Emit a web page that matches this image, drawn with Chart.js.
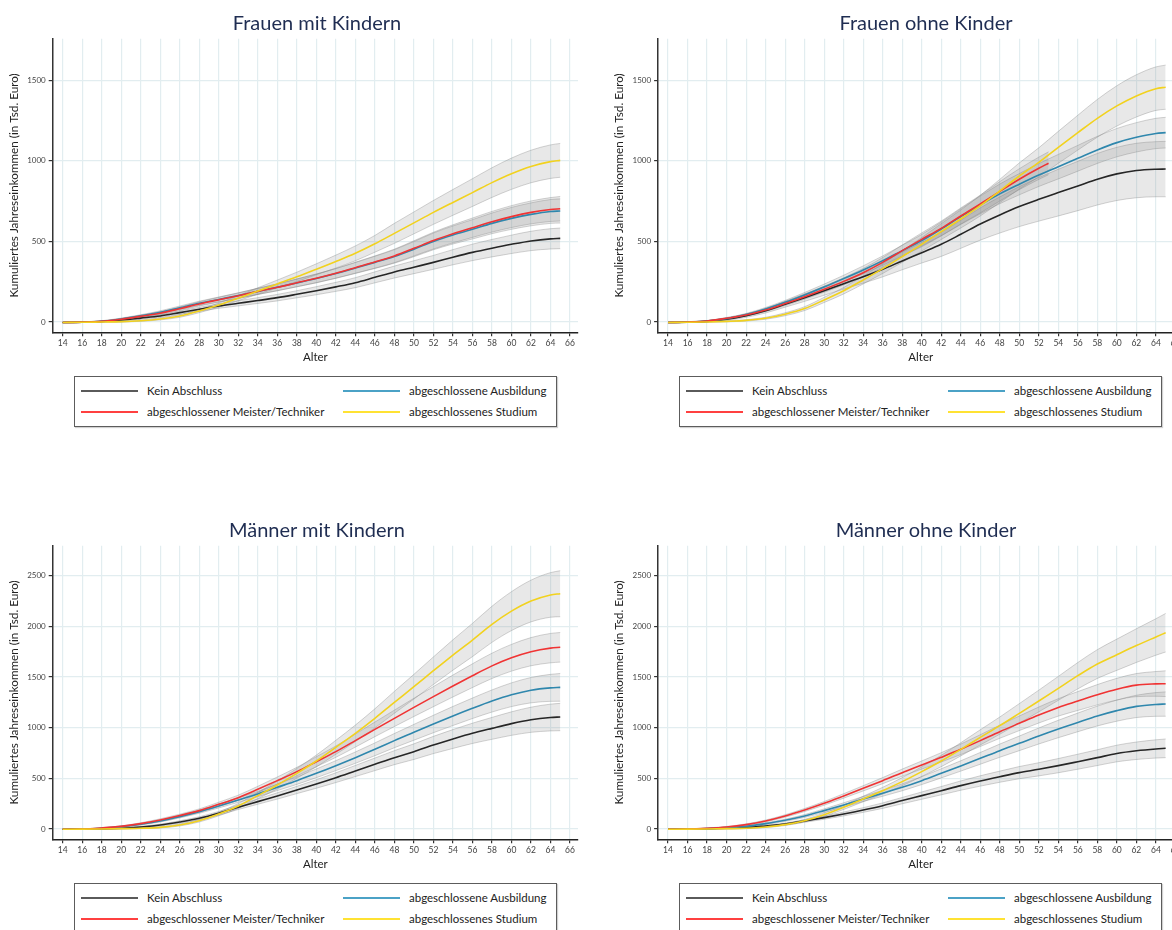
<!DOCTYPE html>
<html>
<head>
<meta charset="utf-8">
<script src="https://cdn.jsdelivr.net/npm/chart.js@4.4.1/dist/chart.umd.min.js"></script>
<style>
  html, body { margin: 0; padding: 0; background: #fff; }
  body { width: 1172px; height: 930px; overflow: hidden; position: relative; font-family: Lato, "Open Sans", sans-serif; }
  canvas { position: absolute; }
  .title { position: absolute; font-size: 20px; line-height: 20px; color: #1f2d52; white-space: nowrap; transform: translateX(-50%); }
  .legend { position: absolute; border: 1.5px solid #5c5c5c; box-sizing: border-box; box-shadow: 1px 1px 1px rgba(0,0,0,0.18); background: #fff; }
  .legend .txt { position: absolute; font-size: 11.5px; line-height: 14px; color: #222; white-space: nowrap; }
  .legend .sw { position: absolute; height: 2px; }
</style>
</head>
<body>
<script>
// Age grid shared by all curves (last point is age 65)
const ages = [14,16,18,20,22,24,26,28,30,32,34,36,38,40,42,44,46,48,50,52,54,56,58,60,62,64,65];
// Meister/Techniker for women without children is only observed up to age 53
const agesMeisterFoK = [14,16,18,20,22,24,26,28,30,32,34,36,38,40,42,44,46,48,50,52,53];
const xTicks = [14,16,18,20,22,24,26,28,30,32,34,36,38,40,42,44,46,48,50,52,54,56,58,60,62,64,66];
const yTicksFrauen = [0,500,1000,1500];
const yTicksMaenner = [0,500,1000,1500,2000,2500];
const seriesNames = ['Kein Abschluss','abgeschlossene Ausbildung','abgeschlossener Meister/Techniker','abgeschlossenes Studium'];

// Frauen mit Kindern (cumulative income, thousand euro) and CI half widths
const fmkKein       = [-3,-1,3,12,24,37,58,79,99,116,133,151,172,194,218,244,277,310,340,370,402,432,458,482,503,516,519];
const fmkKeinCI     = [1,2,3,4,6,8,10,12,14,16,18,20,22,25,28,31,34,37,40,43,47,51,54,57,60,63,64];
const fmkAusb       = [-3,-1,5,19,38,60,88,116,140,164,190,215,242,270,301,335,370,407,452,500,540,575,612,643,668,686,689];
const fmkAusbCI     = [1,2,3,5,7,9,11,13,15,17,19,21,24,27,30,34,38,42,47,52,56,60,64,68,71,74,75];
const fmkMeister    = [-3,-1,4,17,35,54,82,112,138,163,190,215,243,271,302,337,372,410,457,505,547,585,622,654,680,698,703];
const fmkMeisterCI  = [1,2,3,5,7,9,11,13,15,17,19,21,24,27,30,34,38,42,47,52,56,60,64,68,71,74,76];
const fmkStudium    = [-3,-2,0,2,8,19,37,68,105,148,192,236,280,327,375,426,485,550,615,680,742,803,865,920,965,995,1003];
const fmkStudiumCI  = [1,1,2,3,4,6,8,10,13,16,20,24,29,34,40,46,52,62,68,74,80,86,92,97,101,104,105];

// Frauen ohne Kinder
const fokKein       = [-3,-1,4,17,39,70,110,151,194,238,281,327,379,430,482,544,608,664,716,761,803,844,886,919,940,948,949];
const fokKeinCI     = [1,2,4,7,10,14,18,23,28,34,40,47,55,64,75,87,100,112,124,135,145,153,160,165,169,171,172];
const fokAusb       = [-3,0,6,21,46,81,122,168,217,269,323,381,443,505,577,654,726,795,855,912,964,1016,1068,1113,1146,1170,1175];
const fokAusbCI     = [1,2,3,5,7,9,12,15,18,21,25,29,33,38,43,49,55,61,66,71,76,80,84,88,91,94,95];
const fokMeister    = [-3,0,6,23,43,74,114,157,203,252,306,370,443,513,581,658,732,811,886,954,985];
const fokMeisterCI  = [1,2,3,5,7,9,12,15,18,22,26,30,35,40,45,50,55,60,65,69,71];
const fokStudium    = [-3,-2,0,4,10,23,48,83,137,194,261,331,406,482,561,639,722,813,906,991,1084,1175,1264,1341,1403,1448,1457];
const fokStudiumCI  = [1,1,2,3,4,6,9,12,16,20,25,30,36,42,49,56,64,72,81,90,99,108,117,125,131,135,137];

// Männer mit Kindern
const mmkKein       = [-3,-1,2,7,20,39,69,105,155,214,270,326,385,444,506,572,638,704,763,829,888,944,993,1040,1078,1100,1105];
const mmkKeinCI     = [1,2,3,5,7,9,12,15,18,22,26,31,36,42,48,55,62,69,77,85,93,100,108,116,124,132,135];
const mmkAusb       = [-3,-1,7,23,46,79,122,171,227,286,345,411,477,549,625,704,786,872,954,1036,1115,1191,1263,1325,1370,1393,1398];
const mmkAusbCI     = [1,2,3,5,7,10,13,16,19,23,27,32,37,43,49,56,63,70,78,86,94,101,109,117,125,133,137];
const mmkMeister    = [-3,-1,10,26,53,89,132,181,243,309,391,477,566,664,763,872,983,1092,1200,1306,1411,1513,1610,1690,1750,1785,1793];
const mmkMeisterCI  = [1,2,3,5,8,11,14,17,21,25,30,36,42,49,56,64,72,81,90,99,108,117,125,132,139,145,146];
const mmkStudium    = [-3,-2,0,3,7,16,39,82,148,227,329,434,549,671,806,944,1092,1250,1404,1562,1717,1865,2020,2150,2250,2310,2322];
const mmkStudiumCI  = [1,1,2,3,4,6,9,13,18,24,31,39,48,58,69,81,94,108,122,136,150,164,178,192,206,220,227];

// Männer ohne Kinder
const mokKein       = [-3,-1,2,7,13,30,49,79,112,148,187,230,280,329,378,428,474,516,556,589,625,664,704,745,772,790,796];
const mokKeinCI     = [1,2,3,4,6,8,10,13,16,19,23,27,31,36,41,46,51,55,60,65,70,74,78,82,86,90,92];
const mokAusb       = [-3,-1,3,13,26,53,86,128,181,237,296,352,411,477,549,622,697,773,845,918,987,1052,1115,1168,1210,1229,1233];
const mokAusbCI     = [1,2,3,4,6,8,11,14,17,21,25,29,34,39,45,51,58,65,72,79,86,92,98,104,110,117,120];
const mokMeister    = [-3,-1,7,20,43,79,128,187,253,326,401,477,556,631,707,786,872,960,1043,1125,1200,1263,1325,1380,1420,1432,1434];
const mokMeisterCI  = [1,2,3,5,7,9,12,15,18,22,26,30,35,40,46,52,58,65,72,79,86,93,100,107,114,122,127];
const mokStudium    = [-3,-2,0,3,7,20,43,82,141,214,296,378,467,566,671,786,904,1020,1141,1263,1388,1513,1628,1720,1810,1895,1937];
const mokStudiumCI  = [1,1,2,3,4,6,9,12,16,21,27,33,40,48,56,65,75,85,96,107,118,130,142,154,166,180,190];

// ---- styling ----
const FONT = 'Lato, "Open Sans", sans-serif';
const lineColors   = ['#262626', '#2f87ad', '#f03434', '#f2d21e'];
const swatchColors = ['#5a5a5a', '#4ba2c6', '#ff4040', '#ffe233'];
const bandFill = 'rgba(135,135,135,0.19)';
const bandEdge = 'rgba(130,130,130,0.35)';
const gridColor = '#e2edf0';

const panels = [
  { title: 'Frauen mit Kindern', ox: 0,     oy: 0,   titleX: 317, yTicks: yTicksFrauen, yMin: -64,  yMax: 1758,
    series: [[ages, fmkKein, fmkKeinCI], [ages, fmkAusb, fmkAusbCI], [ages, fmkMeister, fmkMeisterCI], [ages, fmkStudium, fmkStudiumCI]] },
  { title: 'Frauen ohne Kinder', ox: 605.4, oy: 0,   titleX: 926, yTicks: yTicksFrauen, yMin: -64,  yMax: 1758,
    series: [[ages, fokKein, fokKeinCI], [ages, fokAusb, fokAusbCI], [agesMeisterFoK, fokMeister, fokMeisterCI], [ages, fokStudium, fokStudiumCI]] },
  { title: 'Männer mit Kindern', ox: 0,     oy: 507, titleX: 317, yTicks: yTicksMaenner, yMin: -102, yMax: 2796,
    series: [[ages, mmkKein, mmkKeinCI], [ages, mmkAusb, mmkAusbCI], [ages, mmkMeister, mmkMeisterCI], [ages, mmkStudium, mmkStudiumCI]] },
  { title: 'Männer ohne Kinder', ox: 605.4, oy: 507, titleX: 926, yTicks: yTicksMaenner, yMin: -102, yMax: 2796,
    series: [[ages, mokKein, mokKeinCI], [ages, mokAusb, mokAusbCI], [ages, mokMeister, mokMeisterCI], [ages, mokStudium, mokStudiumCI]] }
];

// plot frame inside each panel (panel-relative)
const FRAME = { left: 52.7, top: 38.7, right: 578, bottom: 332.3 };
const CW = 600, CH = 372;

function pts(xs, ys) { return xs.map((x, i) => ({ x: x, y: ys[i] })); }

function buildPanel(p) {
  const cx = Math.floor(p.ox), frac = p.ox - cx;
  const cv = document.createElement('canvas');
  cv.width = CW; cv.height = CH;
  cv.style.left = cx + 'px'; cv.style.top = p.oy + 'px';
  cv.style.width = CW + 'px'; cv.style.height = CH + 'px';
  document.body.appendChild(cv);

  const axisLeft = FRAME.left + frac;
  const plotRight = FRAME.right + frac;

  const datasets = [];
  // lines first (drawn on top), Studium topmost
  for (let k = 3; k >= 0; k--) {
    const [xs, ys] = p.series[k];
    datasets.push({
      data: pts(xs, ys), borderColor: lineColors[k], borderWidth: 1.6,
      pointRadius: 0, fill: false, cubicInterpolationMode: 'monotone', order: 0
    });
  }
  // confidence bands
  for (let k = 0; k < 4; k++) {
    const [xs, ys, ci] = p.series[k];
    datasets.push({
      data: pts(xs, ys.map((v, i) => v + ci[i])), borderColor: bandEdge, borderWidth: 1,
      backgroundColor: bandFill, pointRadius: 0, fill: '+1', cubicInterpolationMode: 'monotone', order: 1
    });
    datasets.push({
      data: pts(xs, ys.map((v, i) => v - ci[i])), borderColor: bandEdge, borderWidth: 1,
      pointRadius: 0, fill: false, cubicInterpolationMode: 'monotone', order: 1
    });
  }

  new Chart(cv, {
    type: 'line',
    data: { datasets },
    options: {
      responsive: false, animation: false, devicePixelRatio: 1,
      layout: { padding: { left: 0, top: FRAME.top, right: CW - plotRight, bottom: 0 } },
      plugins: { legend: { display: false }, tooltip: { enabled: false }, title: { display: false } },
      scales: {
        x: {
          type: 'linear', min: 12.98, max: 66.82,
          afterBuildTicks: s => { s.ticks = xTicks.map(v => ({ value: v })); },
          afterFit: s => { s.height = CH - FRAME.bottom; },
          grid: { color: gridColor, lineWidth: 1.2, tickLength: 4, tickColor: '#333', drawTicks: true },
          border: { color: '#222', width: 1.5 },
          ticks: { font: { family: FONT, size: 8.5 }, color: '#444', padding: 2, maxRotation: 0, autoSkip: false,
                   callback: v => String(v) },
          title: { display: true, text: 'Alter', font: { family: FONT, size: 11.5 }, color: '#222', padding: { top: 0, bottom: 8.2 } }
        },
        y: {
          type: 'linear', min: p.yMin, max: p.yMax,
          afterBuildTicks: s => { s.ticks = p.yTicks.map(v => ({ value: v })); },
          afterFit: s => { s.width = axisLeft; },
          grid: { color: gridColor, lineWidth: 1.2, tickLength: 4, tickColor: '#333', drawTicks: true },
          border: { color: '#333', width: 1.5 },
          ticks: { font: { family: FONT, size: 8 }, color: '#444', padding: 3, callback: v => String(v) },
          title: { display: true, text: 'Kumuliertes Jahreseinkommen (in Tsd. Euro)', font: { family: FONT, size: 11.7 }, color: '#222', padding: { top: 7.2, bottom: 0 } }
        }
      }
    }
  });

  // panel heading
  const t = document.createElement('div');
  t.className = 'title';
  t.textContent = p.title;
  t.style.left = p.titleX + 'px';
  t.style.top = (p.oy + 12.3) + 'px';
  document.body.appendChild(t);

  // legend box (two columns)
  const lg = document.createElement('div');
  lg.className = 'legend';
  lg.style.left = Math.round(p.ox + 73.5) + 'px';
  lg.style.top = (p.oy + 376) + 'px';
  lg.style.width = '483px';
  lg.style.height = '51px';
  const cells = [
    { k: 0, col: 0, row: 0 }, { k: 1, col: 1, row: 0 },
    { k: 2, col: 0, row: 1 }, { k: 3, col: 1, row: 1 }
  ];
  cells.forEach(c => {
    const lineX = c.col ? 268 : 6;
    const textX = c.col ? 334 : 72;
    const cy = c.row ? 35 : 14;
    const sw = document.createElement('div');
    sw.className = 'sw';
    sw.style.left = lineX + 'px'; sw.style.width = '57px';
    sw.style.top = (cy - 1) + 'px';
    sw.style.background = swatchColors[c.k];
    lg.appendChild(sw);
    const tx = document.createElement('div');
    tx.className = 'txt';
    tx.textContent = seriesNames[c.k];
    tx.style.left = textX + 'px';
    tx.style.top = (cy - 7.5) + 'px';
    lg.appendChild(tx);
  });
  document.body.appendChild(lg);
}

panels.forEach(buildPanel);
</script>
</body>
</html>
